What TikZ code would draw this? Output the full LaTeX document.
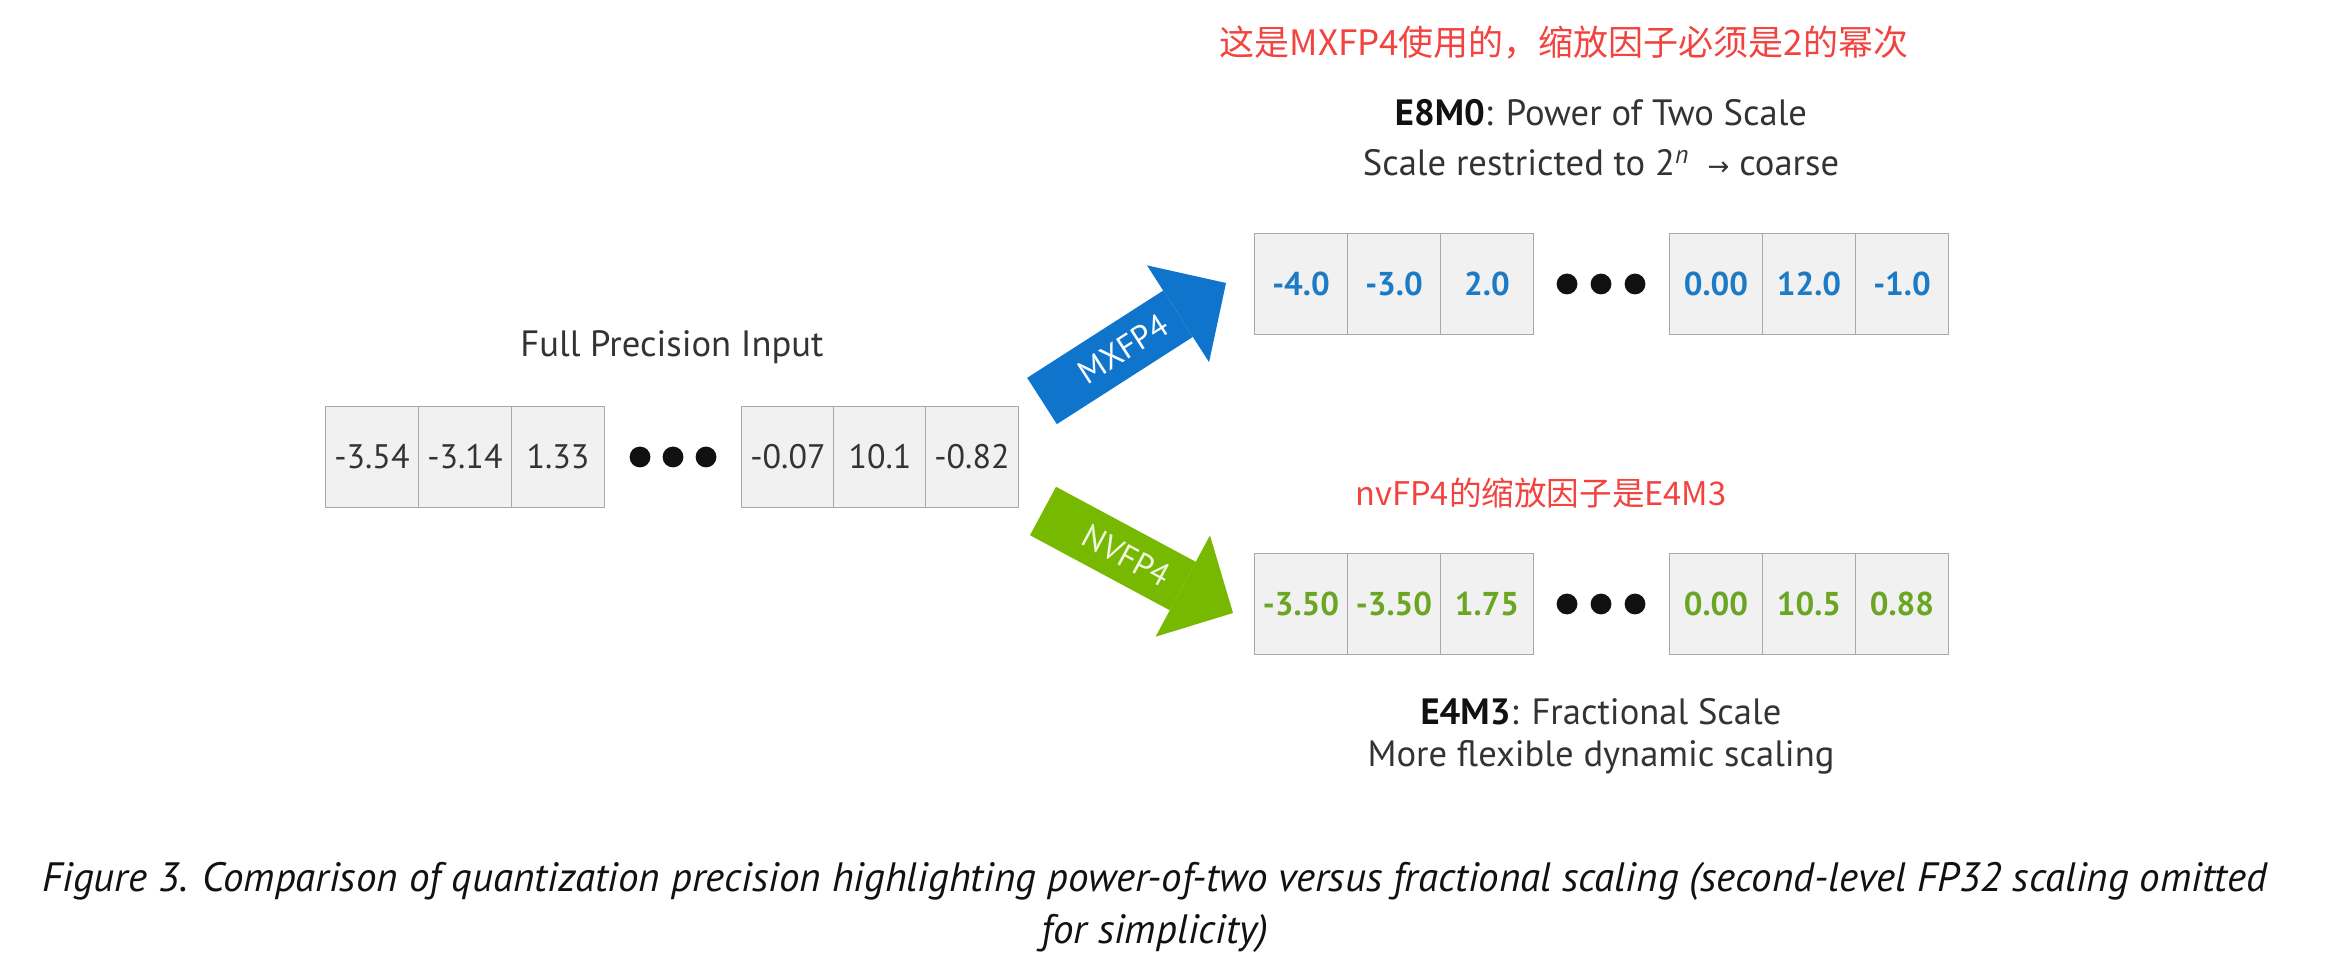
\documentclass[tikz,border=0pt]{standalone}
\usepackage{fontspec}
\setmainfont{PT Sans}
\newfontfamily\cjk{Noto Sans CJK SC}
\newfontfamily\symb{DejaVu Sans}
\usepackage{xcolor}
\usetikzlibrary{arrows.meta,positioning}
\definecolor{ink}{HTML}{333333}
\definecolor{dark}{HTML}{111111}
\definecolor{edge}{HTML}{A8A8A8}
\definecolor{paper}{HTML}{F1F1F1}
\definecolor{mxblue}{HTML}{0E74CC}
\definecolor{nvgreen}{HTML}{76B900}
\definecolor{mxnum}{HTML}{1C7BC4}
\definecolor{nvnum}{HTML}{6AA622}
\definecolor{note}{HTML}{F2433F}
\newcommand\numfont{\fontsize{17}{20}\selectfont}
\newcommand\boldnum{\fontsize{16.5}{20}\selectfont\bfseries}
\newcommand\headfont{\fontsize{18.3}{22}\selectfont}
\newcommand\tagfont{\fontsize{16.5}{19}\selectfont}
\newcommand\capfont{\itshape\fontsize{20.5}{26}\selectfont}

\begin{document}
\begin{tikzpicture}[x=0.5pt,y=-0.5pt,
  cell/.style={draw=edge,fill=paper,line width=0.8pt,minimum width=46.5pt,minimum height=50.5pt,inner sep=0pt,outer sep=0pt},
  fat/.style={line width=27.5pt,-{Triangle[length=28.5pt,width=57.5pt,line width=0pt]}}]
\useasboundingbox (0,0) rectangle (2330,956);
% full precision row
\node[font=\headfont,text=ink] (intitle) at (672,347) {Full Precision Input};
\foreach \i/\x/\v in {1/372/-3.54,2/465/-3.14,3/558/1.33,4/788/-0.07,5/880/10.1,6/972/-0.82}
  \node[cell,font=\numfont,text=ink] (in\i) at (\x,457) {\v};
\foreach \x in {640,673,706} \fill[dark] (\x,457) circle (5.2pt);
% MXFP4 row: power of two scale
\node[font=\cjk\fontsize{17.5}{21}\selectfont,text=note] (mxnote) at (1564,43) {这是MXFP4使用的，缩放因子必须是2的幂次};
\node[font=\headfont,text=ink] (mxtitle) at (1601,113) {\textcolor{dark}{\textbf{E8M0}}: Power of Two Scale};
\node[font=\headfont,text=ink] (mxsub) at (1601,163) {Scale restricted to 2\textsuperscript{\textit{n}}\enspace{\symb\fontsize{13}{15}\selectfont →} coarse};
\foreach \i/\x/\v in {1/1301/-4.0,2/1394/-3.0,3/1487/2.0,4/1716/0.00,5/1809/12.0,6/1902/-1.0}
  \node[cell,font=\boldnum,text=mxnum] (mx\i) at (\x,284) {\v};
\foreach \x in {1567,1601,1635} \fill[dark] (\x,284) circle (5.2pt);
% NVFP4 row: fractional scale
\node[font=\cjk\fontsize{16.3}{20}\selectfont,text=note] (nvnote) at (1541,493) {nvFP4的缩放因子是E4M3};
\foreach \i/\x/\v in {1/1301/-3.50,2/1394/-3.50,3/1487/1.75,4/1716/0.00,5/1809/10.5,6/1902/0.88}
  \node[cell,font=\boldnum,text=nvnum] (nv\i) at (\x,604) {\v};
\foreach \x in {1567,1601,1635} \fill[dark] (\x,604) circle (5.2pt);
\node[font=\headfont,text=ink] (nvtitle) at (1601,712) {\textcolor{dark}{\textbf{E4M3}}: Fractional Scale};
\node[font=\headfont,text=ink] (nvsub) at (1601,757) {More flexible dynamic scaling};
% the two fat arrows
\coordinate (mxtail) at (1042,401); \coordinate (mxtip) at (1226,283);
\coordinate (nvtail) at (1043,511); \coordinate (nvtip) at (1233,613);
\draw[fat,mxblue] (mxtail) -- (mxtip) node[pos=0.44,sloped,font=\tagfont,text=white] (mxtag) {MXFP4};
\draw[fat,nvgreen] (nvtail) -- (nvtip) node[pos=0.44,sloped,font=\tagfont,text=white!88!nvgreen] (nvtag) {NVFP4};
\node[font=\capfont,text=dark,align=center] (caption) at (1155,907) {Figure 3. Comparison of quantization precision highlighting power-of-two versus fractional scaling (second-level FP32 scaling omitted\\for simplicity)};
\end{tikzpicture}
\end{document}
